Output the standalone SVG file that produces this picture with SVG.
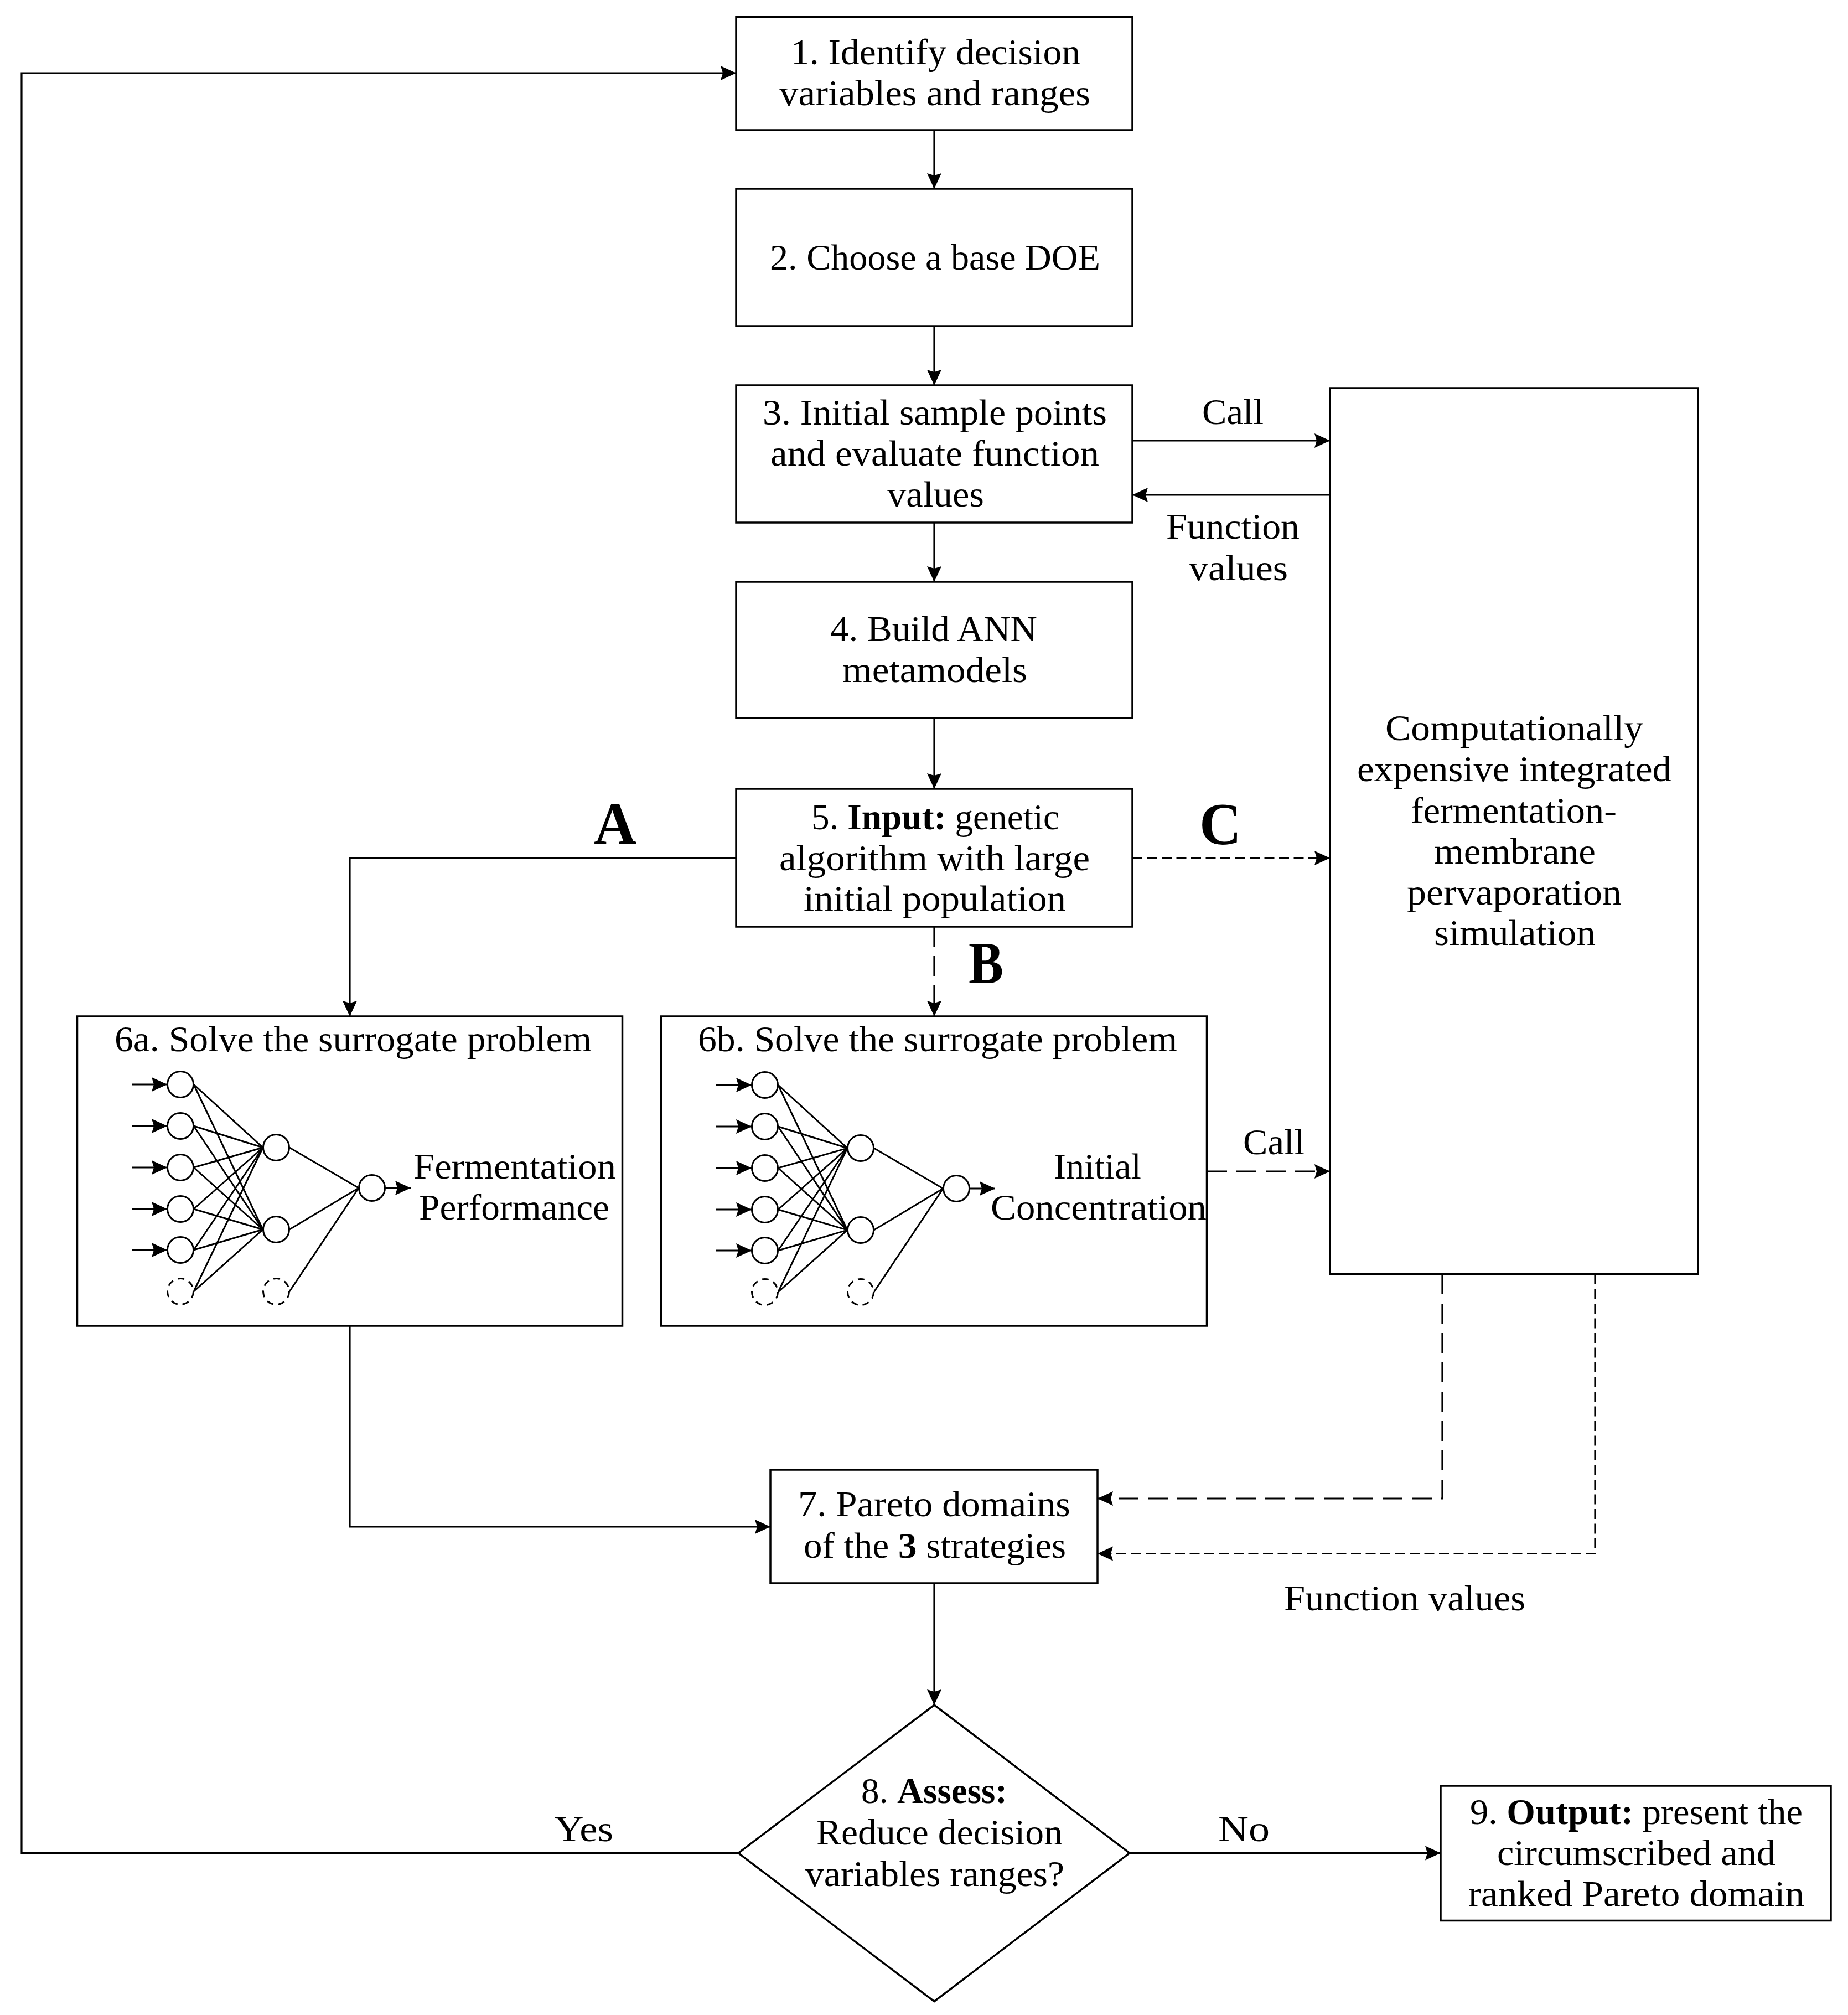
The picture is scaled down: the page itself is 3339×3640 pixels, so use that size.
<svg xmlns="http://www.w3.org/2000/svg" width="3339" height="3640" viewBox="0 0 3339 3640">
<style>
text{font-family:"Liberation Serif","Times New Roman",serif;font-size:65px;fill:#000}
.b{font-weight:bold}
.big{font-weight:bold;font-size:108px}
.n{fill:#fff;stroke:#000;stroke-width:3.5}
.c{fill:none;stroke:#000;stroke-width:3.2}
.nn{fill:none;stroke:#000;stroke-width:3}
.nc{fill:#fff;stroke:#000;stroke-width:3}
.ncd{fill:#fff;stroke:#000;stroke-width:3;stroke-dasharray:12 9}
.a{marker-end:url(#ah)}
.d1{stroke-dasharray:18 8.5}
.d2{stroke-dasharray:36 17}
</style>
<defs>
<marker id="ah" markerUnits="userSpaceOnUse" markerWidth="30" markerHeight="28" refX="28" refY="14" orient="auto"><path d="M0 1 L28 14 L0 27 L4 14 Z" fill="#000"/></marker>
<g id="net">
<path class="nn" d="M350 1959L475 2073M350 2034L475 2073M350 2109L475 2073M350 2184L475 2073M350 2258L475 2073M350 2333L475 2073M350 1959L475 2221M350 2034L475 2221M350 2109L475 2221M350 2184L475 2221M350 2258L475 2221M350 2333L475 2221M523 2073L648 2146M523 2221L648 2146M523 2333L648 2146"/>
<path class="nn a" d="M238 1959H302"/><path class="nn a" d="M238 2034H302"/><path class="nn a" d="M238 2109H302"/><path class="nn a" d="M238 2184H302"/><path class="nn a" d="M238 2258H302"/><path class="nn a" d="M696 2146H742"/>
<circle class="nc" cx="326" cy="1959" r="23.5"/><circle class="nc" cx="326" cy="2034" r="23.5"/><circle class="nc" cx="326" cy="2109" r="23.5"/><circle class="nc" cx="326" cy="2184" r="23.5"/><circle class="nc" cx="326" cy="2258" r="23.5"/><circle class="ncd" cx="326" cy="2333" r="23.5"/>
<circle class="nc" cx="499" cy="2073" r="23.5"/><circle class="nc" cx="499" cy="2221" r="23.5"/><circle class="ncd" cx="499" cy="2333" r="23.5"/>
<circle class="nc" cx="672" cy="2146" r="23.5"/>
</g>
</defs>
<rect width="3339" height="3640" fill="#fff"/>
<g id="connectors">
<path class="c a" d="M1688 235V341"/>
<path class="c a" d="M1688 589V696"/>
<path class="c a" d="M1688 944V1051"/>
<path class="c a" d="M1688 1297V1425"/>
<path class="c a" d="M2046 796H2403"/>
<path class="c a" d="M2403 894H2046"/>
<path class="c a d1" d="M2046 1550H2403"/>
<path class="c a" d="M1330 1550H632V1836"/>
<path class="c a d2" d="M1688 1674V1836"/>
<path class="c a d2" d="M2181 2116H2403"/>
<path class="c a d2" d="M2606 2302V2707H1983"/>
<path class="c a d1" d="M2882 2302V2806.500H1983"/>
<path class="c a" d="M632 2395V2758H1392"/>
<path class="c a" d="M1688 2860V3080"/>
<path class="c a" d="M1334 3347.500H39V132H1330"/>
<path class="c a" d="M2042 3347.500H2603"/>
</g>
<g id="n1"><rect class="n" x="1330" y="30.500" width="716" height="204.500"/>
<text x="1429" y="116" textLength="523" lengthAdjust="spacingAndGlyphs">1. Identify decision</text>
<text x="1408" y="190" textLength="562" lengthAdjust="spacingAndGlyphs">variables and ranges</text></g>
<g id="n2"><rect class="n" x="1330" y="341" width="716" height="248"/>
<text x="1391" y="487" textLength="597" lengthAdjust="spacingAndGlyphs">2. Choose a base DOE</text></g>
<g id="n3"><rect class="n" x="1330" y="696" width="716" height="248"/>
<text x="1378" y="767" textLength="622" lengthAdjust="spacingAndGlyphs">3. Initial sample points</text>
<text x="1392" y="841" textLength="594" lengthAdjust="spacingAndGlyphs">and evaluate function</text>
<text x="1603" y="915" textLength="175" lengthAdjust="spacingAndGlyphs">values</text></g>
<g id="n4"><rect class="n" x="1330" y="1051" width="716" height="246"/>
<text x="1500" y="1158" textLength="374" lengthAdjust="spacingAndGlyphs">4. Build ANN</text>
<text x="1522" y="1232" textLength="334" lengthAdjust="spacingAndGlyphs">metamodels</text></g>
<g id="n5"><rect class="n" x="1330" y="1425" width="716" height="249"/>
<text x="1466" y="1498" textLength="448" lengthAdjust="spacingAndGlyphs">5. <tspan class="b">Input:</tspan> genetic</text>
<text x="1408" y="1572" textLength="561" lengthAdjust="spacingAndGlyphs">algorithm with large</text>
<text x="1452" y="1645" textLength="474" lengthAdjust="spacingAndGlyphs">initial population</text></g>
<g id="n6a"><rect class="n" x="139.500" y="1836" width="985" height="559"/>
<text x="207" y="1899" textLength="862" lengthAdjust="spacingAndGlyphs">6a. Solve the surrogate problem</text>
<use href="#net"/>
<text x="747" y="2129" textLength="366" lengthAdjust="spacingAndGlyphs">Fermentation</text>
<text x="757" y="2203" textLength="344" lengthAdjust="spacingAndGlyphs">Performance</text></g>
<g id="n6b"><rect class="n" x="1194.500" y="1836" width="986" height="559"/>
<text x="1261" y="1899" textLength="866" lengthAdjust="spacingAndGlyphs">6b. Solve the surrogate problem</text>
<use href="#net" transform="translate(1056 1)"/>
<text x="1904" y="2129" textLength="158" lengthAdjust="spacingAndGlyphs">Initial</text>
<text x="1790" y="2203" textLength="390" lengthAdjust="spacingAndGlyphs">Concentration</text></g>
<g id="sim"><rect class="n" x="2403" y="701" width="665" height="1600.500"/>
<text x="2503" y="1337" textLength="466" lengthAdjust="spacingAndGlyphs">Computationally</text>
<text x="2452" y="1411" textLength="568" lengthAdjust="spacingAndGlyphs">expensive integrated</text>
<text x="2549" y="1486" textLength="372" lengthAdjust="spacingAndGlyphs">fermentation-</text>
<text x="2591" y="1560" textLength="292" lengthAdjust="spacingAndGlyphs">membrane</text>
<text x="2542" y="1634" textLength="388" lengthAdjust="spacingAndGlyphs">pervaporation</text>
<text x="2591" y="1707" textLength="292" lengthAdjust="spacingAndGlyphs">simulation</text></g>
<g id="n7"><rect class="n" x="1392" y="2655" width="591" height="205"/>
<text x="1442" y="2739" textLength="492" lengthAdjust="spacingAndGlyphs">7. Pareto domains</text>
<text x="1452" y="2814" textLength="474" lengthAdjust="spacingAndGlyphs">of the <tspan class="b">3</tspan> strategies</text></g>
<g id="n8"><polygon class="n" points="1688,3080 2041,3347.500 1688,3615.500 1334,3347.500"/>
<text x="1556" y="3257" textLength="264" lengthAdjust="spacingAndGlyphs">8. <tspan class="b">Assess:</tspan></text>
<text x="1475" y="3332" textLength="445" lengthAdjust="spacingAndGlyphs">Reduce decision</text>
<text x="1455" y="3407" textLength="468" lengthAdjust="spacingAndGlyphs">variables ranges?</text></g>
<g id="n9"><rect class="n" x="2603" y="3226" width="705" height="243.500"/>
<text x="2656" y="3295" textLength="601" lengthAdjust="spacingAndGlyphs">9. <tspan class="b">Output:</tspan> present the</text>
<text x="2705" y="3369" textLength="503" lengthAdjust="spacingAndGlyphs">circumscribed and</text>
<text x="2653" y="3443" textLength="607" lengthAdjust="spacingAndGlyphs">ranked Pareto domain</text></g>
<g id="labels">
<text x="2172" y="766" textLength="111" lengthAdjust="spacingAndGlyphs">Call</text>
<text x="2107" y="973" textLength="241" lengthAdjust="spacingAndGlyphs">Function</text>
<text x="2148" y="1048" textLength="179" lengthAdjust="spacingAndGlyphs">values</text>
<text x="2246" y="2085" textLength="111" lengthAdjust="spacingAndGlyphs">Call</text>
<text x="2320" y="2909" textLength="436" lengthAdjust="spacingAndGlyphs">Function values</text>
<text x="1002" y="3326" textLength="106" lengthAdjust="spacingAndGlyphs">Yes</text>
<text x="2201" y="3326" textLength="93" lengthAdjust="spacingAndGlyphs">No</text>
<text class="big" x="1073" y="1525" textLength="77" lengthAdjust="spacingAndGlyphs">A</text>
<text class="big" x="1750" y="1776" textLength="63" lengthAdjust="spacingAndGlyphs">B</text>
<text class="big" x="2167" y="1525" textLength="76" lengthAdjust="spacingAndGlyphs">C</text>
</g>
</svg>
